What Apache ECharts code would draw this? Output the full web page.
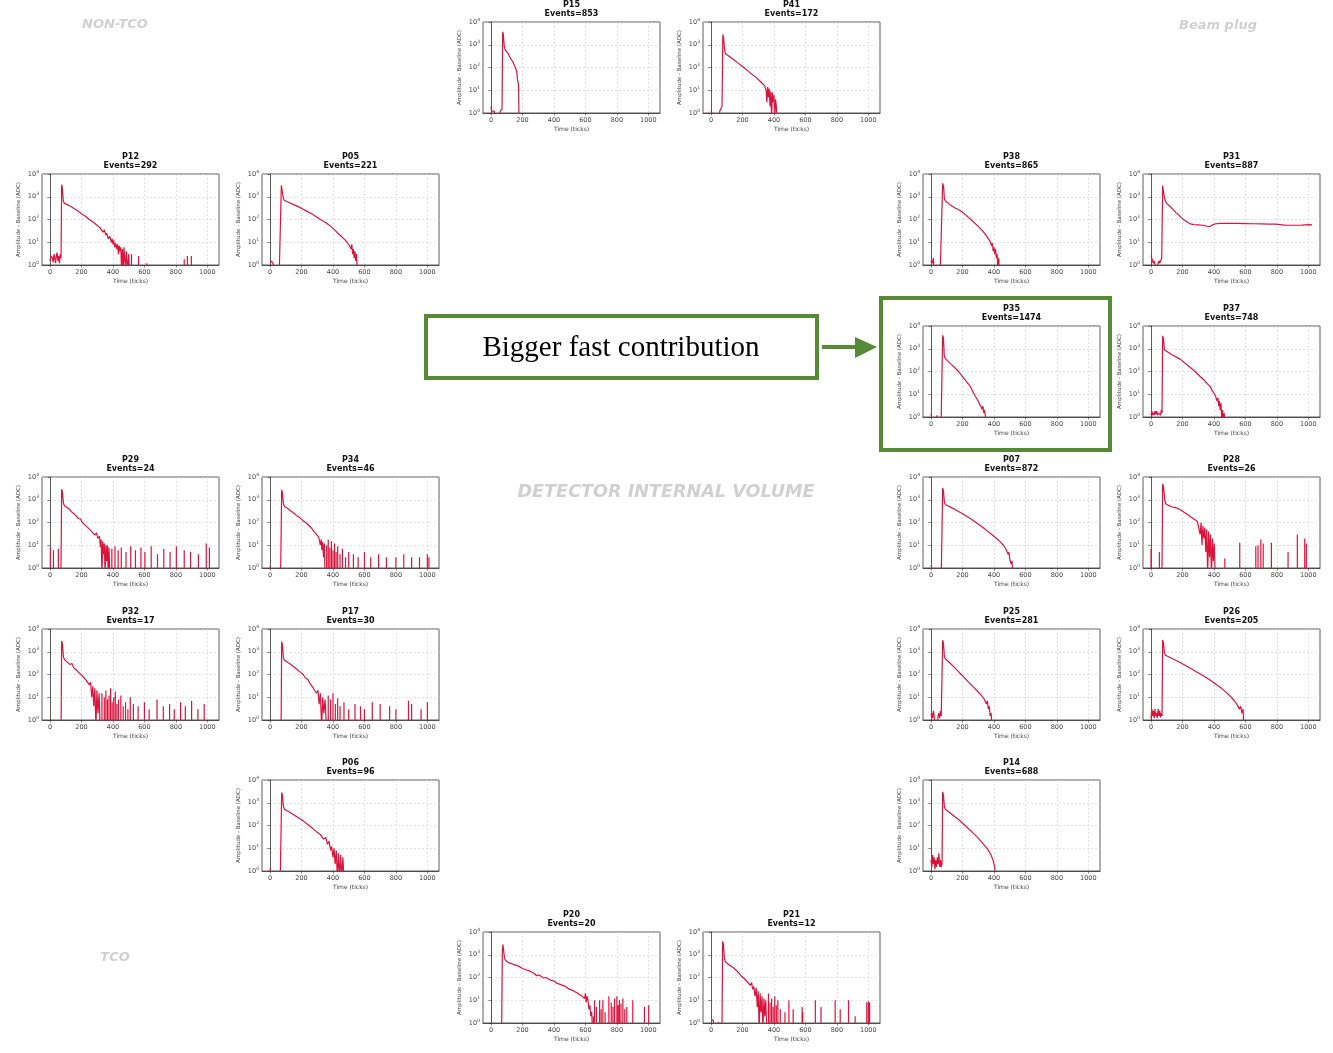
<!DOCTYPE html>
<html><head><meta charset="utf-8">
<script src="https://cdn.jsdelivr.net/npm/echarts@6/dist/echarts.min.js"></script>
<style>html,body{margin:0;padding:0;background:#fff}#c{width:1333px;height:1053px}</style>
</head><body><div id="c"></div>
<script>
// ---------------- DATA ----------------
const panelNames = ['P15','P41','P12','P05','P38','P31','P35','P37','P29','P34','P07','P28','P32','P17','P25','P26','P06','P14','P20','P21'];
const panelEvents = [853,172,292,221,865,887,1474,748,24,46,872,26,17,30,281,205,96,688,20,12];
const xTickLabels = [0,200,400,600,800,1000];
const yTickLabels = [1,10,100,1000,10000];

// waveforms: [time (ticks), amplitude (ADC)]; 0.5 = below axis floor
const P15_trace = [[0,2],[3,1.2],[10,1.3],[20,1.2],[28,1.3],[32,0.5],[55,0.5],[58,1.2],[66,1.2],[70,1.5],[74,3700],[78,3000],[84,900],[90,600],[100,520],[108,420],[118,300],[130,220],[140,170],[150,120],[160,80],[165,55],[168,30],[172,22],[175,16],[178,0.5]];
const P15_spikes = [];
const P41_trace = [[0,1.3],[10,1.1],[20,0.5],[50,0.5],[55,1.2],[65,1.2],[70,2],[75,2800],[80,2000],[86,600],[92,400],[110,330],[140,230],[170,160],[200,110],[230,75],[260,50],[290,35],[320,22],[340,16],[350,10],[355,3],[360,14],[365,5],[370,12],[375,2],[380,9],[385,0.5],[390,8],[395,3],[400,6],[405,0.5],[410,4],[415,2],[420,0.5]];
const P41_spikes = [];
const P12_trace = [[0,1.5],[5,2.5],[10,3],[15,2],[20,1.3],[25,3],[30,2],[35,1.2],[40,2.5],[45,3.5],[50,1.5],[55,2.5],[60,1.2],[65,3],[70,2],[74,3400],[78,2500],[84,700],[90,520],[110,450],[130,380],[150,310],[175,240],[200,180],[225,140],[250,100],[275,75],[300,55],[320,42],[335,28],[345,35],[355,20],[360,25],[370,14],[380,18],[390,10],[395,14],[400,8],[405,12],[412,6],[418,9],[425,5],[430,8],[435,3],[440,7],[445,4],[450,6],[455,0.5],[460,5],[465,0.5],[470,6],[475,2],[480,0.5],[485,4],[490,1.5],[495,0.5],[500,3],[505,0.5]];
const P12_spikes = [[518,3],[563,2.5],[615,1.2],[853,1.8],[873,2.5],[898,2.5]];
const P05_trace = [[0,1.2],[10,1.5],[20,1.1],[30,0.5],[55,0.5],[60,1.2],[68,1.2],[72,3200],[78,2800],[84,900],[90,700],[120,560],[150,450],[190,340],[230,240],[270,170],[310,110],[350,75],[380,54],[410,35],[440,22],[470,14],[490,10],[505,7],[515,5],[520,8],[525,3],[530,5],[535,2],[540,4],[545,1.5],[550,3],[555,0.5]];
const P05_spikes = [];
const P38_trace = [[0,1.5],[8,1.2],[15,2],[20,0.5],[55,0.5],[60,1.3],[68,1.5],[74,3900],[80,2800],[85,800],[92,650],[120,450],[150,330],[185,250],[220,160],[260,90],[300,50],[330,30],[350,20],[365,14],[375,11],[385,7],[390,9],[395,4],[400,6],[405,3],[410,5],[415,2],[420,3],[425,0.5],[430,2],[435,0.5]];
const P38_spikes = [];
const P31_trace = [[0,2.6],[5,2],[10,1.5],[15,1.2],[20,1.5],[25,1.1],[30,0.5],[40,0.5],[45,1.2],[50,1.5],[55,1.2],[62,1.3],[68,2],[74,3100],[78,2800],[84,1000],[90,670],[100,500],[116,400],[135,300],[158,200],[175,160],[190,124],[210,95],[232,75],[250,64],[270,60],[300,58],[330,56],[350,52],[370,48],[385,55],[410,65],[450,67],[500,67],[550,67],[600,66],[650,65],[700,64],[750,63],[790,63],[820,60],[850,57],[880,56],[920,56],[960,57],[1000,60],[1023,58]];
const P31_spikes = [];
const P35_trace = [[0,1.4],[5,1.3],[10,0.5],[35,0.5],[38,1.2],[42,0.5],[60,0.5],[65,1.1],[70,1.2],[74,3900],[79,3000],[84,500],[90,380],[110,270],[130,200],[150,150],[175,100],[200,60],[225,36],[250,22],[274,10],[290,6.5],[300,5],[310,3.5],[318,4],[325,2.2],[330,3],[335,1.5],[340,2],[345,1.2],[350,0.5]];
const P35_spikes = [];
const P37_trace = [[0,1.2],[5,1.8],[10,1.2],[15,1.5],[20,1.2],[25,1.8],[30,1.3],[35,1.8],[40,1.2],[45,1.5],[50,1.3],[55,1.8],[60,1.2],[65,2],[70,1.5],[74,3700],[79,2800],[85,900],[92,750],[130,560],[185,350],[240,170],[280,100],[312,60],[340,40],[360,28],[376,22],[390,14],[400,12],[408,9],[415,10],[420,5],[425,7],[430,3],[435,5],[440,2],[445,4],[450,0.5],[455,2],[460,0.5],[465,1.5],[470,0.5]];
const P37_spikes = [];
const P29_trace = [[68,0.5],[70,1.5],[74,2900],[79,2200],[85,700],[92,550],[110,450],[125,380],[135,300],[150,250],[165,200],[180,150],[195,140],[205,100],[215,110],[225,75],[235,80],[245,55],[255,60],[265,40],[275,45],[285,28],[295,35],[305,20],[315,25],[320,8],[325,18],[330,0.5],[335,15],[340,4],[345,12],[350,0.5],[355,10],[360,2],[365,10],[370,0.5],[375,8],[380,0.5]];
const P29_spikes = [[2,8],[22,6],[53,7],[393,7],[413,9],[433,6],[453,8],[483,5],[513,9],[543,6],[578,8],[603,5],[643,9],[683,4],[723,7],[763,5],[803,9],[853,6],[893,5],[943,4],[993,12],[1013,8]];
const P34_trace = [[0,1.2],[10,0.5],[60,0.5],[68,1.2],[74,2700],[79,2000],[85,650],[92,500],[110,420],[130,330],[150,260],[170,200],[190,160],[210,120],[230,95],[250,70],[265,55],[280,40],[295,30],[310,22],[320,10],[325,18],[330,6],[335,14],[340,3],[345,12],[350,0.5]];
const P34_spikes = [[360,10],[370,18],[380,8],[390,15],[400,6],[410,12],[420,5],[430,9],[445,4],[460,7],[480,3],[500,5],[530,4],[560,3],[600,5],[640,3],[690,4],[740,3],[800,3],[850,4],[900,3],[950,3],[1000,4],[1010,3]];
const P07_trace = [[0,1.3],[8,1.1],[15,0.5],[60,0.5],[66,1.2],[74,3300],[79,2500],[85,750],[92,600],[130,450],[170,320],[210,220],[250,150],[290,95],[330,60],[370,36],[410,22],[440,14],[460,10],[475,7],[485,8],[490,4],[495,5],[500,2.5],[505,3],[510,1.5],[515,2],[520,0.5]];
const P07_spikes = [];
const P28_trace = [[66,0.5],[70,1.2],[74,5000],[80,3500],[88,900],[95,650],[105,600],[115,550],[125,600],[135,480],[145,520],[155,450],[165,500],[175,400],[185,380],[195,330],[205,350],[215,270],[225,300],[235,220],[245,240],[255,170],[265,190],[275,140],[285,150],[295,110],[305,90],[312,30],[318,100],[324,10],[330,70],[336,20],[342,60],[348,5],[354,50],[360,0.5],[366,40],[372,3],[378,30],[384,0.5],[390,20],[396,2],[402,12],[408,0.5]];
const P28_spikes = [[0,7],[53,5],[469,2.6],[564,13],[666,9],[680,10],[698,18],[713,12],[765,13],[871,5],[930,30],[977,20],[987,12]];
const P32_trace = [[68,0.5],[71,1.5],[74,3000],[79,2200],[85,600],[92,450],[110,350],[125,280],[140,300],[150,200],[160,220],[170,150],[180,170],[190,110],[200,120],[210,80],[220,90],[230,55],[240,60],[250,35],[258,45],[265,10],[272,30],[278,4],[285,25],[292,0.5],[298,20],[305,2],[312,15],[318,0.5]];
const P32_spikes = [[330,15],[345,10],[355,20],[365,8],[375,12],[385,25],[395,6],[405,10],[415,18],[425,5],[435,8],[450,12],[465,4],[480,6],[495,3],[510,10],[530,5],[560,4],[600,6],[630,3],[680,8],[720,4],[760,5],[790,3],[830,6],[860,4],[900,7],[940,3],[980,5]];
const P17_trace = [[68,0.5],[71,1.5],[74,2800],[79,2000],[85,550],[92,420],[110,350],[130,280],[150,220],[170,170],[190,130],[210,100],[225,70],[240,60],[255,40],[265,45],[275,25],[285,30],[295,15],[305,20],[312,5],[320,15],[328,0.5],[335,10],[342,2],[350,8],[358,0.5]];
const P17_spikes = [[370,12],[385,8],[400,15],[415,5],[430,9],[445,4],[470,6],[500,3],[540,5],[575,4],[600,3],[650,6],[700,5],[760,4],[800,3],[880,7],[900,5],[960,3],[1000,6]];
const P25_trace = [[0,1.5],[5,2],[10,1.2],[15,2.5],[20,1.5],[25,0.5],[40,0.5],[45,1.5],[50,2],[55,1.2],[60,2.5],[65,1.5],[70,1.8],[74,3200],[79,2400],[85,600],[92,480],[120,320],[150,200],[180,120],[210,75],[240,45],[270,28],[300,17],[320,12],[335,9],[345,10],[352,5],[358,7],[364,3],[370,4],[376,1.5],[382,2],[388,0.5]];
const P25_spikes = [];
const P26_trace = [[0,1.2],[5,3],[10,1.5],[15,2.5],[20,1.2],[25,3],[30,1.5],[35,2],[40,1.2],[45,3],[50,1.5],[55,2.5],[60,1.3],[65,2],[70,1.5],[74,3300],[79,2500],[85,900],[92,700],[130,520],[170,380],[210,270],[250,190],[290,130],[330,90],[370,60],[410,38],[450,24],[480,16],[510,10],[530,7],[545,5],[555,6],[562,3],[570,4],[578,2],[585,3],[590,0.5]];
const P26_spikes = [];
const P06_trace = [[0,1.3],[10,0.5],[60,0.5],[66,1.2],[74,2800],[79,2100],[85,700],[92,520],[120,400],[150,300],[180,220],[210,160],[240,110],[270,75],[300,50],[320,40],[340,25],[355,30],[365,15],[375,20],[385,8],[392,12],[400,4],[407,10],[414,2],[421,8],[428,0.5],[435,6],[442,0.5],[449,5],[456,0.5],[463,4],[470,0.5]];
const P06_spikes = [];
const P14_trace = [[0,3],[5,1.5],[10,5],[15,2],[20,4],[25,1.2],[30,3],[35,1.5],[40,4],[45,2],[50,6],[55,1.5],[60,3],[65,1.5],[70,2],[74,3000],[79,2200],[85,650],[92,500],[120,360],[150,250],[180,170],[210,110],[240,70],[270,45],[300,28],[330,16],[350,11],[365,8],[375,9],[382,5],[388,6],[394,3],[400,3.5],[405,1.5],[410,0.5]];
const P14_spikes = [];
const P20_trace = [[66,0.5],[68,1.2],[72,1500],[76,2800],[80,1500],[86,700],[93,560],[110,450],[125,420],[140,380],[152,320],[165,340],[180,300],[200,250],[220,220],[240,200],[257,175],[275,150],[290,120],[305,130],[320,110],[335,95],[350,100],[363,89],[380,75],[400,70],[420,55],[440,50],[455,45],[468,42],[485,35],[500,30],[515,28],[530,24],[545,22],[560,18],[574,16],[585,14],[595,12],[600,20],[605,8],[610,15],[616,10],[622,4],[628,6],[634,2],[640,3],[645,0.5]];
const P20_spikes = [[650,2],[658,10],[670,5],[690,10],[700,4],[711,10],[725,3],[749,15],[764,8],[775,5],[785,12],[800,15],[808,6],[816,10],[826,7],[838,12],[850,4],[863,5],[901,10],[975,5],[1002,6]];
const P21_trace = [[0,1.4],[5,1.3],[10,1.2],[15,1.3],[20,0.5],[45,0.5],[48,1.1],[55,0.5],[68,0.5],[70,1.2],[74,3900],[79,2800],[85,700],[91,500],[100,420],[110,380],[116,420],[125,320],[135,300],[145,260],[158,215],[170,180],[180,150],[190,120],[200,110],[210,90],[220,75],[230,65],[242,55],[250,45],[258,60],[265,30],[272,40],[280,15],[287,35],[294,5],[300,25],[306,0.5],[312,20],[318,3],[324,15],[330,0.5],[336,12],[342,2],[348,10],[354,0.5]];
const P21_spikes = [[365,20],[375,8],[385,12],[395,5],[405,15],[415,6],[425,10],[440,4],[470,3],[495,10],[522,4],[579,5],[583,3],[663,10],[699,5],[789,10],[821,4],[874,10],[916,2],[990,8],[1000,9],[1008,8]];

const traces = {P15:[P15_trace,P15_spikes],P41:[P41_trace,P41_spikes],P12:[P12_trace,P12_spikes],P05:[P05_trace,P05_spikes],P38:[P38_trace,P38_spikes],P31:[P31_trace,P31_spikes],P35:[P35_trace,P35_spikes],P37:[P37_trace,P37_spikes],P29:[P29_trace,P29_spikes],P34:[P34_trace,P34_spikes],P07:[P07_trace,P07_spikes],P28:[P28_trace,P28_spikes],P32:[P32_trace,P32_spikes],P17:[P17_trace,P17_spikes],P25:[P25_trace,P25_spikes],P26:[P26_trace,P26_spikes],P06:[P06_trace,P06_spikes],P14:[P14_trace,P14_spikes],P20:[P20_trace,P20_spikes],P21:[P21_trace,P21_spikes]};

// ---------------- LAYOUT ----------------
const COL_LEFT = {A:42, B:262, C:483, D:703, E:923, F:1143};
const ROW_TOP = [22,174,326,477,629,780,932];
const PW = 177, PH = 91;
const placement = {P15:['C',0],P41:['D',0],P12:['A',1],P05:['B',1],P38:['E',1],P31:['F',1],P35:['E',2],P37:['F',2],P29:['A',3],P34:['B',3],P07:['E',3],P28:['F',3],P32:['A',4],P17:['B',4],P25:['E',4],P26:['F',4],P06:['B',5],P14:['E',5],P20:['C',6],P21:['D',6]};
const RED = '#dc143c';
const FONT = '"DejaVu Sans", sans-serif';
const GREEN = '#568a37';

const option = {animation:false, backgroundColor:'#fff', grid:[], xAxis:[], yAxis:[], series:[], graphic:[]};

panelNames.forEach((name, i) => {
  const [col, row] = placement[name];
  const left = COL_LEFT[col], top = ROW_TOP[row];
  option.grid.push({left, top, width:PW, height:PH, show:true, borderColor:'#333', borderWidth:0.8, backgroundColor:'#fff'});
  option.xAxis.push({
    gridIndex:i, type:'value', min:-51, max:1074,
    name:'Time (ticks)', nameLocation:'middle', nameGap:13,
    nameTextStyle:{fontSize:6, color:'#444', fontFamily:FONT},
    axisLine:{show:true, lineStyle:{color:'#333', width:0.8}},
    axisTick:{show:true, length:2.5, customValues:xTickLabels, lineStyle:{color:'#333', width:0.6}},
    axisLabel:{show:true, fontSize:6.5, color:'#444', fontFamily:FONT, margin:4, customValues:xTickLabels,
      formatter: v => String(v)},
    splitLine:{show:true, lineStyle:{color:'#cfcfcf', width:0.6, type:[2,2]}}
  });
  option.yAxis.push({
    gridIndex:i, type:'log', logBase:10, min:1, max:10000,
    name:'Amplitude - Baseline (ADC)', nameLocation:'middle', nameGap:20,
    nameTextStyle:{fontSize:5.5, color:'#444', fontFamily:FONT},
    axisLine:{show:true, lineStyle:{color:'#333', width:0.8}},
    axisTick:{show:true, length:2.5, lineStyle:{color:'#333', width:0.6}},
    axisLabel:{show:true, fontSize:6.5, color:'#444', fontFamily:FONT, margin:3,
      customValues:yTickLabels,
      formatter: v => '10{s|' + Math.round(Math.log10(v)) + '}',
      rich:{s:{fontSize:4.5, color:'#444', fontFamily:FONT, padding:[0,0,5,0]}}},
    splitLine:{show:true, lineStyle:{color:'#cfcfcf', width:0.6, type:[2,2]}}
  });
  const [trace, spikes] = traces[name];
  option.series.push({type:'line', xAxisIndex:i, yAxisIndex:i, data:trace, showSymbol:false, symbol:'none', clip:true,
    lineStyle:{color:RED, width:1.2}});
  if (spikes.length) {
    const stem = [];
    spikes.forEach(([t, v]) => { stem.push([t, 0.5], [t, v], [t, '-']); });
    option.series.push({type:'line', xAxisIndex:i, yAxisIndex:i, data:stem, showSymbol:false, symbol:'none', clip:true, connectNulls:false,
      lineStyle:{color:RED, width:1.2}});
  }
  option.graphic.push({type:'text', x:left + PW/2, y:top - 22, z:10,
    style:{text:name + '\nEvents=' + panelEvents[i], font:'bold 8px ' + FONT, fill:'#111', align:'center', textAlign:'center', verticalAlign:'top', lineHeight:9}});
});

// annotations / watermarks
const wm = (text, x, y, size) => ({type:'text', x, y, z:5,
  style:{text, font:'italic bold ' + size + 'px ' + FONT, fill:'#d0d0d0', align:'center', textAlign:'center', verticalAlign:'middle', textVerticalAlign:'middle'}});
option.graphic.push(wm('NON-TCO', 115, 25, 13));
option.graphic.push(wm('Beam plug', 1218, 26, 13));
option.graphic.push(wm('DETECTOR INTERNAL VOLUME', 666, 492, 17.6));
option.graphic.push(wm('TCO', 115, 958, 13));
option.graphic.push({type:'rect', z:20, shape:{x:426, y:316, width:391, height:62}, style:{fill:'#fff', stroke:GREEN, lineWidth:4}});
option.graphic.push({type:'text', z:21, x:621, y:348, style:{text:'Bigger fast contribution', font:'29px "Liberation Serif", serif', fill:'#000', align:'center', textAlign:'center', verticalAlign:'middle', textVerticalAlign:'middle'}});
option.graphic.push({type:'line', z:20, shape:{x1:822, y1:347, x2:858, y2:347}, style:{stroke:GREEN, lineWidth:4}});
option.graphic.push({type:'polygon', z:20, shape:{points:[[855,337],[877,347],[855,358]]}, style:{fill:GREEN}});
option.graphic.push({type:'rect', z:20, shape:{x:881, y:298, width:229, height:152}, style:{fill:'none', stroke:GREEN, lineWidth:4}});

const chart = echarts.init(document.getElementById('c'), null, {renderer:'canvas'});
chart.setOption(option);
</script>
</body></html>
